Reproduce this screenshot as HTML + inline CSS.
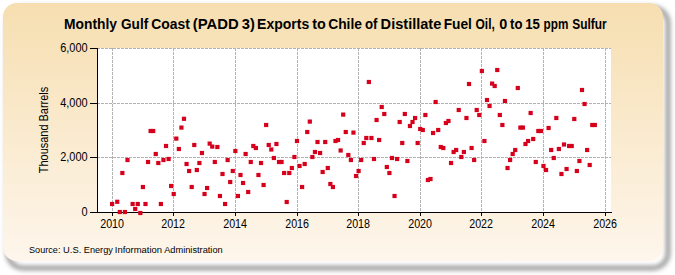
<!DOCTYPE html>
<html><head><meta charset="utf-8"><style>
html,body{margin:0;padding:0;background:#fff;}
body{width:675px;height:275px;overflow:hidden;}
svg{display:block;}
text{font-family:"Liberation Sans",sans-serif;fill:#000;}
</style></head><body>
<svg width="675" height="275" viewBox="0 0 675 275">
<defs>
<linearGradient id="bg" x1="0" y1="0" x2="0" y2="1">
<stop offset="0" stop-color="#F6DEB0"/>
<stop offset="1" stop-color="#FEF6EC"/>
</linearGradient>
<filter id="sh" x="-10%" y="-10%" width="120%" height="120%"><feGaussianBlur stdDeviation="2.7"/></filter>
</defs>
<rect x="8" y="8" width="660" height="260" rx="15" fill="none" stroke="#747474" stroke-width="3.5" filter="url(#sh)"/>
<rect x="3" y="3" width="660" height="258" rx="14" fill="url(#bg)"/>
<rect x="97" y="48" width="514" height="164" fill="#fff"/>
<g stroke="#b2b2b2" stroke-width="1" stroke-dasharray="3,1" fill="none">
<line x1="112.5" y1="48" x2="112.5" y2="212" />
<line x1="173.5" y1="48" x2="173.5" y2="212" />
<line x1="235.5" y1="48" x2="235.5" y2="212" />
<line x1="297.5" y1="48" x2="297.5" y2="212" />
<line x1="358.5" y1="48" x2="358.5" y2="212" />
<line x1="420.5" y1="48" x2="420.5" y2="212" />
<line x1="481.5" y1="48" x2="481.5" y2="212" />
<line x1="543.5" y1="48" x2="543.5" y2="212" />
<line x1="605.5" y1="48" x2="605.5" y2="212" />
<line x1="97" y1="48.5" x2="611" y2="48.5" />
<line x1="97" y1="103.5" x2="611" y2="103.5" />
<line x1="97" y1="157.5" x2="611" y2="157.5" />
</g>
<g stroke="#000" stroke-width="1" fill="none">
<line x1="97.5" y1="48" x2="97.5" y2="212.5"/>
<line x1="97" y1="212.5" x2="612" y2="212.5"/>
<line x1="90" y1="48.5" x2="97" y2="48.5"/>
<line x1="90" y1="103.5" x2="97" y2="103.5"/>
<line x1="90" y1="157.5" x2="97" y2="157.5"/>
<line x1="90" y1="212.5" x2="97" y2="212.5"/>
<line x1="112.5" y1="212" x2="112.5" y2="216"/>
<line x1="173.5" y1="212" x2="173.5" y2="216"/>
<line x1="235.5" y1="212" x2="235.5" y2="216"/>
<line x1="297.5" y1="212" x2="297.5" y2="216"/>
<line x1="358.5" y1="212" x2="358.5" y2="216"/>
<line x1="420.5" y1="212" x2="420.5" y2="216"/>
<line x1="481.5" y1="212" x2="481.5" y2="216"/>
<line x1="543.5" y1="212" x2="543.5" y2="216"/>
<line x1="605.5" y1="212" x2="605.5" y2="216"/>
</g>
<g fill="#D6001C">
<rect x="110" y="201.9" width="4.2" height="4.2"/>
<rect x="115.14" y="199.7" width="4.2" height="4.2"/>
<rect x="117.7" y="209.9" width="4.2" height="4.2"/>
<rect x="120.27" y="170.9" width="4.2" height="4.2"/>
<rect x="122.84" y="209.9" width="4.2" height="4.2"/>
<rect x="125.41" y="157.9" width="4.2" height="4.2"/>
<rect x="130.54" y="201.9" width="4.2" height="4.2"/>
<rect x="133.11" y="206.9" width="4.2" height="4.2"/>
<rect x="135.68" y="201.9" width="4.2" height="4.2"/>
<rect x="138.24" y="210.9" width="4.2" height="4.2"/>
<rect x="140.81" y="184.9" width="4.2" height="4.2"/>
<rect x="143.38" y="201.9" width="4.2" height="4.2"/>
<rect x="145.95" y="159.9" width="4.2" height="4.2"/>
<rect x="148.52" y="128.9" width="4.2" height="4.2"/>
<rect x="151.08" y="128.9" width="4.2" height="4.2"/>
<rect x="153.65" y="151.9" width="4.2" height="4.2"/>
<rect x="156.22" y="160.9" width="4.2" height="4.2"/>
<rect x="158.79" y="201.9" width="4.2" height="4.2"/>
<rect x="161.35" y="157.9" width="4.2" height="4.2"/>
<rect x="163.92" y="143.9" width="4.2" height="4.2"/>
<rect x="166.49" y="156.9" width="4.2" height="4.2"/>
<rect x="169.06" y="183.9" width="4.2" height="4.2"/>
<rect x="171.62" y="191.9" width="4.2" height="4.2"/>
<rect x="174.19" y="136.5" width="4.2" height="4.2"/>
<rect x="176.76" y="146.9" width="4.2" height="4.2"/>
<rect x="179.33" y="125.5" width="4.2" height="4.2"/>
<rect x="181.9" y="116.7" width="4.2" height="4.2"/>
<rect x="184.46" y="161.9" width="4.2" height="4.2"/>
<rect x="187.03" y="168.9" width="4.2" height="4.2"/>
<rect x="189.6" y="184.9" width="4.2" height="4.2"/>
<rect x="192.17" y="142.9" width="4.2" height="4.2"/>
<rect x="194.73" y="167.9" width="4.2" height="4.2"/>
<rect x="197.3" y="160.9" width="4.2" height="4.2"/>
<rect x="199.87" y="150.9" width="4.2" height="4.2"/>
<rect x="202.44" y="191.9" width="4.2" height="4.2"/>
<rect x="205.01" y="185.9" width="4.2" height="4.2"/>
<rect x="207.57" y="141.5" width="4.2" height="4.2"/>
<rect x="210.14" y="144.5" width="4.2" height="4.2"/>
<rect x="212.71" y="159.9" width="4.2" height="4.2"/>
<rect x="215.28" y="144.9" width="4.2" height="4.2"/>
<rect x="217.84" y="193.9" width="4.2" height="4.2"/>
<rect x="220.41" y="171.9" width="4.2" height="4.2"/>
<rect x="222.98" y="201.9" width="4.2" height="4.2"/>
<rect x="225.55" y="157.9" width="4.2" height="4.2"/>
<rect x="228.11" y="179.9" width="4.2" height="4.2"/>
<rect x="230.68" y="168.9" width="4.2" height="4.2"/>
<rect x="233.25" y="148.9" width="4.2" height="4.2"/>
<rect x="235.82" y="193.9" width="4.2" height="4.2"/>
<rect x="238.39" y="172.9" width="4.2" height="4.2"/>
<rect x="240.95" y="180.9" width="4.2" height="4.2"/>
<rect x="243.52" y="151.9" width="4.2" height="4.2"/>
<rect x="246.09" y="189.9" width="4.2" height="4.2"/>
<rect x="248.66" y="159.9" width="4.2" height="4.2"/>
<rect x="251.22" y="143.9" width="4.2" height="4.2"/>
<rect x="253.79" y="145.9" width="4.2" height="4.2"/>
<rect x="256.36" y="172.9" width="4.2" height="4.2"/>
<rect x="258.93" y="160.9" width="4.2" height="4.2"/>
<rect x="261.49" y="182.9" width="4.2" height="4.2"/>
<rect x="264.06" y="122.9" width="4.2" height="4.2"/>
<rect x="266.63" y="142.9" width="4.2" height="4.2"/>
<rect x="269.2" y="147.4" width="4.2" height="4.2"/>
<rect x="271.77" y="155.9" width="4.2" height="4.2"/>
<rect x="274.33" y="141.9" width="4.2" height="4.2"/>
<rect x="276.9" y="159.9" width="4.2" height="4.2"/>
<rect x="279.47" y="159.9" width="4.2" height="4.2"/>
<rect x="282.04" y="170.9" width="4.2" height="4.2"/>
<rect x="284.6" y="199.9" width="4.2" height="4.2"/>
<rect x="287.17" y="170.9" width="4.2" height="4.2"/>
<rect x="289.74" y="165.9" width="4.2" height="4.2"/>
<rect x="292.31" y="154.9" width="4.2" height="4.2"/>
<rect x="294.88" y="138.9" width="4.2" height="4.2"/>
<rect x="297.44" y="163.9" width="4.2" height="4.2"/>
<rect x="300.01" y="184.9" width="4.2" height="4.2"/>
<rect x="302.58" y="161.9" width="4.2" height="4.2"/>
<rect x="305.15" y="129.9" width="4.2" height="4.2"/>
<rect x="307.71" y="119.5" width="4.2" height="4.2"/>
<rect x="310.28" y="154.9" width="4.2" height="4.2"/>
<rect x="312.85" y="149.9" width="4.2" height="4.2"/>
<rect x="315.42" y="139.9" width="4.2" height="4.2"/>
<rect x="317.98" y="150.9" width="4.2" height="4.2"/>
<rect x="320.55" y="169.9" width="4.2" height="4.2"/>
<rect x="323.12" y="139.9" width="4.2" height="4.2"/>
<rect x="325.69" y="165.9" width="4.2" height="4.2"/>
<rect x="328.26" y="181.9" width="4.2" height="4.2"/>
<rect x="330.82" y="184.9" width="4.2" height="4.2"/>
<rect x="333.39" y="138.9" width="4.2" height="4.2"/>
<rect x="335.96" y="137.9" width="4.2" height="4.2"/>
<rect x="338.53" y="148.4" width="4.2" height="4.2"/>
<rect x="341.09" y="112.5" width="4.2" height="4.2"/>
<rect x="343.66" y="129.9" width="4.2" height="4.2"/>
<rect x="346.23" y="152.9" width="4.2" height="4.2"/>
<rect x="348.8" y="157.9" width="4.2" height="4.2"/>
<rect x="351.36" y="130.5" width="4.2" height="4.2"/>
<rect x="353.93" y="173.9" width="4.2" height="4.2"/>
<rect x="356.5" y="168.9" width="4.2" height="4.2"/>
<rect x="359.07" y="157.9" width="4.2" height="4.2"/>
<rect x="361.64" y="140.9" width="4.2" height="4.2"/>
<rect x="364.2" y="135.9" width="4.2" height="4.2"/>
<rect x="366.77" y="79.9" width="4.2" height="4.2"/>
<rect x="369.34" y="135.9" width="4.2" height="4.2"/>
<rect x="371.91" y="156.9" width="4.2" height="4.2"/>
<rect x="374.47" y="117.9" width="4.2" height="4.2"/>
<rect x="377.04" y="137.9" width="4.2" height="4.2"/>
<rect x="379.61" y="104.9" width="4.2" height="4.2"/>
<rect x="382.18" y="111.9" width="4.2" height="4.2"/>
<rect x="384.74" y="164.9" width="4.2" height="4.2"/>
<rect x="387.31" y="170.9" width="4.2" height="4.2"/>
<rect x="389.88" y="155.9" width="4.2" height="4.2"/>
<rect x="392.45" y="193.9" width="4.2" height="4.2"/>
<rect x="395.02" y="156.9" width="4.2" height="4.2"/>
<rect x="397.58" y="119.9" width="4.2" height="4.2"/>
<rect x="400.15" y="140.9" width="4.2" height="4.2"/>
<rect x="402.72" y="111.9" width="4.2" height="4.2"/>
<rect x="405.29" y="158.9" width="4.2" height="4.2"/>
<rect x="407.85" y="123.9" width="4.2" height="4.2"/>
<rect x="410.42" y="119.9" width="4.2" height="4.2"/>
<rect x="412.99" y="115.9" width="4.2" height="4.2"/>
<rect x="415.56" y="140.9" width="4.2" height="4.2"/>
<rect x="418.12" y="126.9" width="4.2" height="4.2"/>
<rect x="420.69" y="127.9" width="4.2" height="4.2"/>
<rect x="423.26" y="112.9" width="4.2" height="4.2"/>
<rect x="425.83" y="177.9" width="4.2" height="4.2"/>
<rect x="428.4" y="176.9" width="4.2" height="4.2"/>
<rect x="430.96" y="130.9" width="4.2" height="4.2"/>
<rect x="433.53" y="99.9" width="4.2" height="4.2"/>
<rect x="436.1" y="127.9" width="4.2" height="4.2"/>
<rect x="438.67" y="144.9" width="4.2" height="4.2"/>
<rect x="441.23" y="145.9" width="4.2" height="4.2"/>
<rect x="443.8" y="120.9" width="4.2" height="4.2"/>
<rect x="446.37" y="118.9" width="4.2" height="4.2"/>
<rect x="448.94" y="160.9" width="4.2" height="4.2"/>
<rect x="451.51" y="149.9" width="4.2" height="4.2"/>
<rect x="454.07" y="147.9" width="4.2" height="4.2"/>
<rect x="456.64" y="107.9" width="4.2" height="4.2"/>
<rect x="459.21" y="154.9" width="4.2" height="4.2"/>
<rect x="461.78" y="149.9" width="4.2" height="4.2"/>
<rect x="464.34" y="115.9" width="4.2" height="4.2"/>
<rect x="466.91" y="81.9" width="4.2" height="4.2"/>
<rect x="469.48" y="145.9" width="4.2" height="4.2"/>
<rect x="472.05" y="157.9" width="4.2" height="4.2"/>
<rect x="474.61" y="107.9" width="4.2" height="4.2"/>
<rect x="477.18" y="112.9" width="4.2" height="4.2"/>
<rect x="479.75" y="68.9" width="4.2" height="4.2"/>
<rect x="482.32" y="138.9" width="4.2" height="4.2"/>
<rect x="484.89" y="97.9" width="4.2" height="4.2"/>
<rect x="487.45" y="103.9" width="4.2" height="4.2"/>
<rect x="490.02" y="81.5" width="4.2" height="4.2"/>
<rect x="492.59" y="83.9" width="4.2" height="4.2"/>
<rect x="495.16" y="67.9" width="4.2" height="4.2"/>
<rect x="497.72" y="112.9" width="4.2" height="4.2"/>
<rect x="500.29" y="122.9" width="4.2" height="4.2"/>
<rect x="502.86" y="98.9" width="4.2" height="4.2"/>
<rect x="505.43" y="165.9" width="4.2" height="4.2"/>
<rect x="507.99" y="157.9" width="4.2" height="4.2"/>
<rect x="510.56" y="151.9" width="4.2" height="4.2"/>
<rect x="513.13" y="147.9" width="4.2" height="4.2"/>
<rect x="515.7" y="85.9" width="4.2" height="4.2"/>
<rect x="518.27" y="125.5" width="4.2" height="4.2"/>
<rect x="520.83" y="125.5" width="4.2" height="4.2"/>
<rect x="523.4" y="141.9" width="4.2" height="4.2"/>
<rect x="525.97" y="138.9" width="4.2" height="4.2"/>
<rect x="528.54" y="110.9" width="4.2" height="4.2"/>
<rect x="531.1" y="136.9" width="4.2" height="4.2"/>
<rect x="533.67" y="159.9" width="4.2" height="4.2"/>
<rect x="536.24" y="128.9" width="4.2" height="4.2"/>
<rect x="538.81" y="128.9" width="4.2" height="4.2"/>
<rect x="541.38" y="163.9" width="4.2" height="4.2"/>
<rect x="543.94" y="167.9" width="4.2" height="4.2"/>
<rect x="546.51" y="125.9" width="4.2" height="4.2"/>
<rect x="549.08" y="147.9" width="4.2" height="4.2"/>
<rect x="551.65" y="155.9" width="4.2" height="4.2"/>
<rect x="554.21" y="115.9" width="4.2" height="4.2"/>
<rect x="556.78" y="146.9" width="4.2" height="4.2"/>
<rect x="559.35" y="171.9" width="4.2" height="4.2"/>
<rect x="561.92" y="142.4" width="4.2" height="4.2"/>
<rect x="564.48" y="166.9" width="4.2" height="4.2"/>
<rect x="567.05" y="143.9" width="4.2" height="4.2"/>
<rect x="569.62" y="143.9" width="4.2" height="4.2"/>
<rect x="572.19" y="116.9" width="4.2" height="4.2"/>
<rect x="574.76" y="168.9" width="4.2" height="4.2"/>
<rect x="577.32" y="158.9" width="4.2" height="4.2"/>
<rect x="579.89" y="87.9" width="4.2" height="4.2"/>
<rect x="582.46" y="101.9" width="4.2" height="4.2"/>
<rect x="585.03" y="147.9" width="4.2" height="4.2"/>
<rect x="587.59" y="162.9" width="4.2" height="4.2"/>
<rect x="590.16" y="122.9" width="4.2" height="4.2"/>
<rect x="592.73" y="122.9" width="4.2" height="4.2"/>
</g>
<g font-weight="bold" font-size="13.4" fill="#000"><text transform="translate(63.97,28.7) scale(1.033,1.04)">Monthly</text><text transform="translate(120.99,28.7) scale(1.017,1.04)">Gulf</text><text transform="translate(151.18,28.7) scale(1.038,1.04)">Coast</text><text transform="translate(192.77,28.7) scale(1.108,1.04)">(PADD</text><text transform="translate(241.72,28.7) scale(1.100,1.04)">3)</text><text transform="translate(257.05,28.7) scale(1.047,1.04)">Exports</text><text transform="translate(312.33,28.7) scale(1.072,1.04)">to</text><text transform="translate(328.18,28.7) scale(1.033,1.04)">Chile</text><text transform="translate(365.01,28.7) scale(0.988,1.04)">of</text><text transform="translate(380.61,28.7) scale(1.088,1.04)">Distillate</text><text transform="translate(443.67,28.7) scale(1.027,1.04)">Fuel</text><text transform="translate(475.55,28.7) scale(0.894,1.04)">Oil,</text><text transform="translate(499.16,28.7) scale(1.077,1.04)">0</text><text transform="translate(510.06,28.7) scale(0.979,1.04)">to</text><text transform="translate(525.16,28.7) scale(0.989,1.04)">15</text><text transform="translate(543.62,28.7) scale(0.875,1.04)">ppm</text><text transform="translate(572.25,28.7) scale(0.892,1.04)">Sulfur</text></g>
<g font-size="12.6">
<text transform="translate(87.6,51.6) scale(0.87,1)" text-anchor="end">6,000</text>
<text transform="translate(87.6,106.6) scale(0.87,1)" text-anchor="end">4,000</text>
<text transform="translate(87.6,160.6) scale(0.87,1)" text-anchor="end">2,000</text>
<text transform="translate(87.6,215.6) scale(0.87,1)" text-anchor="end">0</text>
<text transform="translate(112.1,228) scale(0.85,1)" text-anchor="middle">2010</text>
<text transform="translate(173.1,228) scale(0.85,1)" text-anchor="middle">2012</text>
<text transform="translate(235.1,228) scale(0.85,1)" text-anchor="middle">2014</text>
<text transform="translate(297.1,228) scale(0.85,1)" text-anchor="middle">2016</text>
<text transform="translate(358.1,228) scale(0.85,1)" text-anchor="middle">2018</text>
<text transform="translate(420.1,228) scale(0.85,1)" text-anchor="middle">2020</text>
<text transform="translate(481.1,228) scale(0.85,1)" text-anchor="middle">2022</text>
<text transform="translate(543.1,228) scale(0.85,1)" text-anchor="middle">2024</text>
<text transform="translate(605.1,228) scale(0.85,1)" text-anchor="middle">2026</text>
</g>
<text transform="translate(47.6,130) rotate(-90) scale(0.87,1)" text-anchor="middle" font-size="12.6">Thousand Barrels</text>
<g font-size="9.6" fill="#000"><text transform="translate(29.02,253) scale(0.951,1)">Source:</text><text transform="translate(63.07,253) scale(0.976,1)">U.S.</text><text transform="translate(83.78,253) scale(0.956,1)">Energy</text><text transform="translate(114.81,253) scale(0.987,1)">Information</text><text transform="translate(164.20,253) scale(0.964,1)">Administration</text></g>
</svg>
</body></html>
